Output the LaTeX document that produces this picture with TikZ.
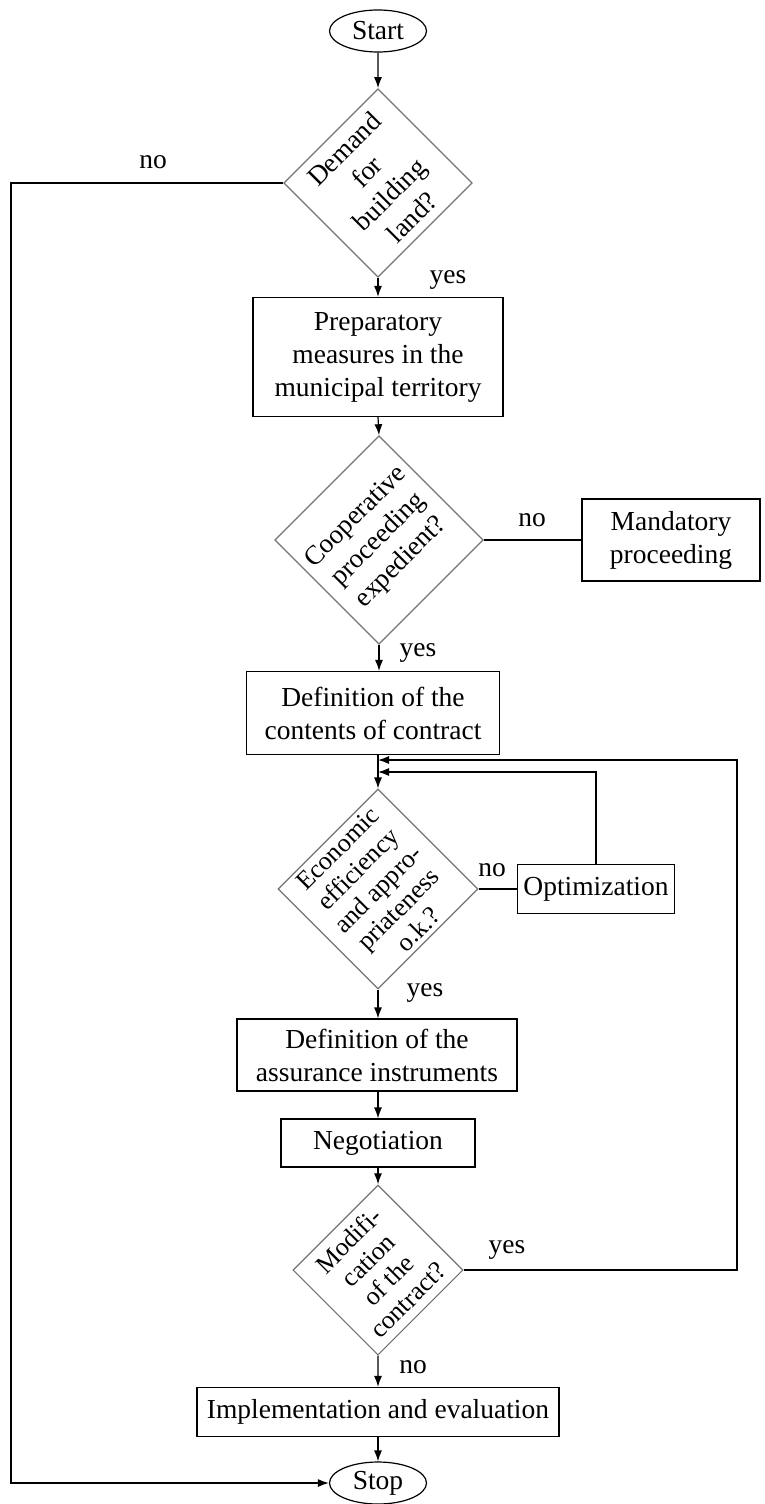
\documentclass[tikz,border=0pt]{standalone}
\usepackage{fontspec}
\setmainfont{Liberation Serif}
\usetikzlibrary{shapes.geometric}
\usetikzlibrary{arrows.meta}
\tikzset{
  fc-text/.style={font=\fontsize{27.5}{33}\selectfont},
  box/.style 2 args={draw=black, line width=1.2pt, align=center, fc-text,
    minimum width=#1pt, minimum height=#2pt, inner sep=0pt},
  decision/.style={draw=black!55, line width=1.2pt, rotate=45, align=center,
    minimum size=#1pt, inner sep=0pt, font=\fontsize{27}{32}\selectfont},
  terminal/.style={draw=black, ellipse, line width=1.2pt, fc-text,
    minimum width=97pt, minimum height=42pt, inner sep=0pt},
  flow/.style={line width=1.2pt, -{Latex[length=11pt,width=8pt]}},
  link/.style={line width=1.2pt},
  answer/.style={fc-text, inner sep=0pt},
}
\begin{document}
\begin{tikzpicture}[x=1pt, y=1pt]
  \useasboundingbox (0,0) rectangle (765,-1504);

  \node[terminal] (fc-start) at (378,-31) {Start};
  \node[decision=133] (fc-d1) at (378,-183) {Demand\\for\\building\\land?};
  \node[box={250}{119}] (fc-prep) at (378,-357) {Preparatory\\measures in the\\municipal territory};
  \node[decision=147] (fc-d2) at (379,-540) {Cooperative\\proceeding\\expedient?};
  \node[box={178}{82}] (fc-mand) at (671,-540) {Mandatory\\proceeding};
  \node[box={253}{83}] (fc-contents) at (373,-713) {Definition of the\\contents of contract};
  \node[decision=141, font=\fontsize{26}{28.5}\selectfont] (fc-d3) at (378,-889)
    {Economic\\efficiency\\and appro-\\priateness\\o.k.?};
  \node[box={157}{49}] (fc-opt) at (596,-889) {Optimization};
  \node[box={280}{72}] (fc-assur) at (377,-1055) {Definition of the\\assurance instruments};
  \node[box={194}{48}] (fc-nego) at (378,-1143) {Negotiation};
  \node[decision=120, font=\fontsize{26}{28}\selectfont] (fc-d4) at (378,-1270)
    {Modifi-\\cation\\of the\\contract?};
  \node[box={362}{49}] (fc-impl) at (378,-1412) {Implementation and evaluation};
  \node[terminal] (fc-stop) at (378,-1483) {Stop};

  % bends of the long lines
  \coordinate (fc-west) at (11,-183);
  \coordinate (fc-loop) at (737,-760);
  \coordinate (fc-in1) at (378,-760);
  \coordinate (fc-in2) at (378,-772);

  % main line
  \draw[flow] (fc-start.south) -- (fc-d1.north east);
  \draw[flow] (fc-d1.south west) -- (fc-prep.north);
  \draw[flow] (fc-prep.south) -- (fc-d2.north east);
  \draw[flow] (fc-d2.south west) -- (fc-d2.south west |- fc-contents.north);
  \draw[flow] (fc-contents.south -| fc-d3.north east) -- (fc-d3.north east);
  \draw[flow] (fc-d3.south west) -- (fc-d3.south west |- fc-assur.north);
  \draw[flow] (fc-assur.south -| fc-nego.north) -- (fc-nego.north);
  \draw[flow] (fc-nego.south) -- (fc-d4.north east);
  \draw[flow] (fc-d4.south west) -- (fc-impl.north);
  \draw[flow] (fc-impl.south) -- (fc-stop.north);

  % side branches
  \draw[flow] (fc-d1.north west) -- (fc-d1.north west -| fc-west) |- (fc-stop.west);
  \draw[link] (fc-d2.south east) -- (fc-d2.south east -| fc-mand.west);
  \draw[link] (fc-d3.south east) -- (fc-d3.south east -| fc-opt.west);
  \draw[flow] (fc-opt.north) |- (fc-in2);
  \draw[flow] (fc-d4.south east) -| (fc-loop) -- (fc-in1);

  % answers
  \node[answer] (fc-no1) at (153,-162) {no};
  \node[answer] (fc-yes1) at (448,-280) {yes};
  \node[answer] (fc-no2) at (532,-520) {no};
  \node[answer] (fc-yes2) at (418,-653) {yes};
  \node[answer] (fc-no3) at (492,-870) {no};
  \node[answer] (fc-yes3) at (425,-993) {yes};
  \node[answer] (fc-yes4) at (507,-1250) {yes};
  \node[answer] (fc-no4) at (413,-1367) {no};
\end{tikzpicture}
\end{document}
